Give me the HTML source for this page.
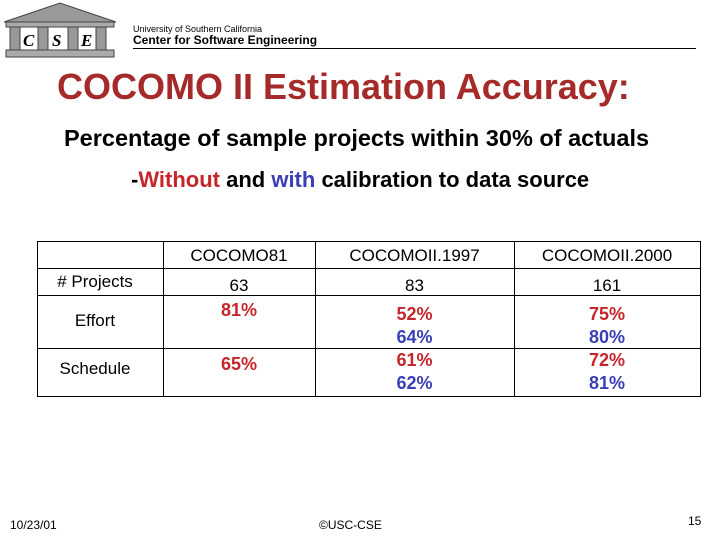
<!DOCTYPE html>
<html><head><meta charset="utf-8"><style>
body{margin:0;width:720px;height:540px;background:#fff;position:relative;overflow:hidden;font-family:"Liberation Sans",Arial,sans-serif}
.a{position:absolute;white-space:nowrap}
.c{position:absolute;text-align:center;font-size:17px;color:#000}
.r{color:#c4262b;font-weight:bold;font-size:18px}
.b{color:#3a3fb5;font-weight:bold;font-size:18px}
.l{position:absolute;background:#000}
</style></head><body>
<svg class="a" style="left:0;top:0" width="120" height="62" viewBox="0 0 120 62">
<polygon points="4,22 60,3 116,22" fill="#999" stroke="#444"/>
<rect x="6" y="22" width="108" height="5" fill="#aaa" stroke="#444"/>
<rect x="10" y="27" width="10" height="23" fill="#999" stroke="#444"/>
<rect x="38" y="27" width="10" height="23" fill="#999" stroke="#444"/>
<rect x="68" y="27" width="10" height="23" fill="#999" stroke="#444"/>
<rect x="96" y="27" width="10" height="23" fill="#999" stroke="#444"/>
<text x="23" y="46" font-family="Liberation Serif" font-style="italic" font-weight="bold" font-size="17">C</text>
<text x="52" y="46" font-family="Liberation Serif" font-style="italic" font-weight="bold" font-size="17">S</text>
<text x="81" y="46" font-family="Liberation Serif" font-style="italic" font-weight="bold" font-size="17">E</text>
<rect x="6" y="50" width="108" height="7" fill="#aaa" stroke="#444"/>
</svg>
<div class="a" style="left:133px;top:24px;font-size:9px">University of Southern California</div>
<div class="a" style="left:133px;top:33px;font-size:12px;font-weight:bold">Center for Software Engineering</div>
<div class="l" style="left:133px;top:48px;width:563px;height:1px"></div>
<div class="a" style="left:57px;top:66px;font-size:36px;font-weight:bold;color:#a52a2a">COCOMO II Estimation Accuracy:</div>
<div class="a" style="left:64px;top:125px;font-size:23.5px;font-weight:bold">Percentage of sample projects within 30% of actuals</div>
<div class="a" style="left:131px;top:167px;font-size:22px;font-weight:bold">-<span style="color:#c4262b">Without</span> and <span style="color:#3a3fb5">with</span> calibration to data source</div>

<div>
<div class="l" style="left:37px;top:241px;width:664px;height:1px"></div>
<div class="l" style="left:37px;top:268px;width:664px;height:1px"></div>
<div class="l" style="left:37px;top:295px;width:664px;height:1px"></div>
<div class="l" style="left:37px;top:348px;width:664px;height:1px"></div>
<div class="l" style="left:37px;top:396px;width:664px;height:1px"></div>
<div class="l" style="left:37px;top:241px;width:1px;height:156px"></div>
<div class="l" style="left:163px;top:241px;width:1px;height:156px"></div>
<div class="l" style="left:315px;top:241px;width:1px;height:156px"></div>
<div class="l" style="left:514px;top:241px;width:1px;height:156px"></div>
<div class="l" style="left:700px;top:241px;width:1px;height:156px"></div>

<div class="c" style="left:163px;width:152px;top:246px">COCOMO81</div>
<div class="c" style="left:315px;width:199px;top:246px">COCOMOII.1997</div>
<div class="c" style="left:514px;width:186px;top:246px">COCOMOII.2000</div>

<div class="c" style="left:37px;width:116px;top:272px">#&nbsp;Projects</div>
<div class="c" style="left:163px;width:152px;top:276px">63</div>
<div class="c" style="left:315px;width:199px;top:276px">83</div>
<div class="c" style="left:514px;width:186px;top:276px">161</div>

<div class="c" style="left:37px;width:116px;top:311px">Effort</div>
<div class="c r" style="left:163px;width:152px;top:300px">81%</div>
<div class="c" style="left:315px;width:199px;top:303px;line-height:23px"><span class="r">52%</span><br><span class="b">64%</span></div>
<div class="c" style="left:514px;width:186px;top:303px;line-height:23px"><span class="r">75%</span><br><span class="b">80%</span></div>

<div class="c" style="left:37px;width:116px;top:359px">Schedule</div>
<div class="c r" style="left:163px;width:152px;top:354px">65%</div>
<div class="c" style="left:315px;width:199px;top:349px;line-height:23px"><span class="r">61%</span><br><span class="b">62%</span></div>
<div class="c" style="left:514px;width:186px;top:349px;line-height:23px"><span class="r">72%</span><br><span class="b">81%</span></div>
</div>

<div class="a" style="left:10px;top:518px;font-size:12px">10/23/01</div>
<div class="a" style="left:319px;top:518px;font-size:12px">©USC-CSE</div>
<div class="a" style="left:688px;top:514px;font-size:12px">15</div>
</body></html>
